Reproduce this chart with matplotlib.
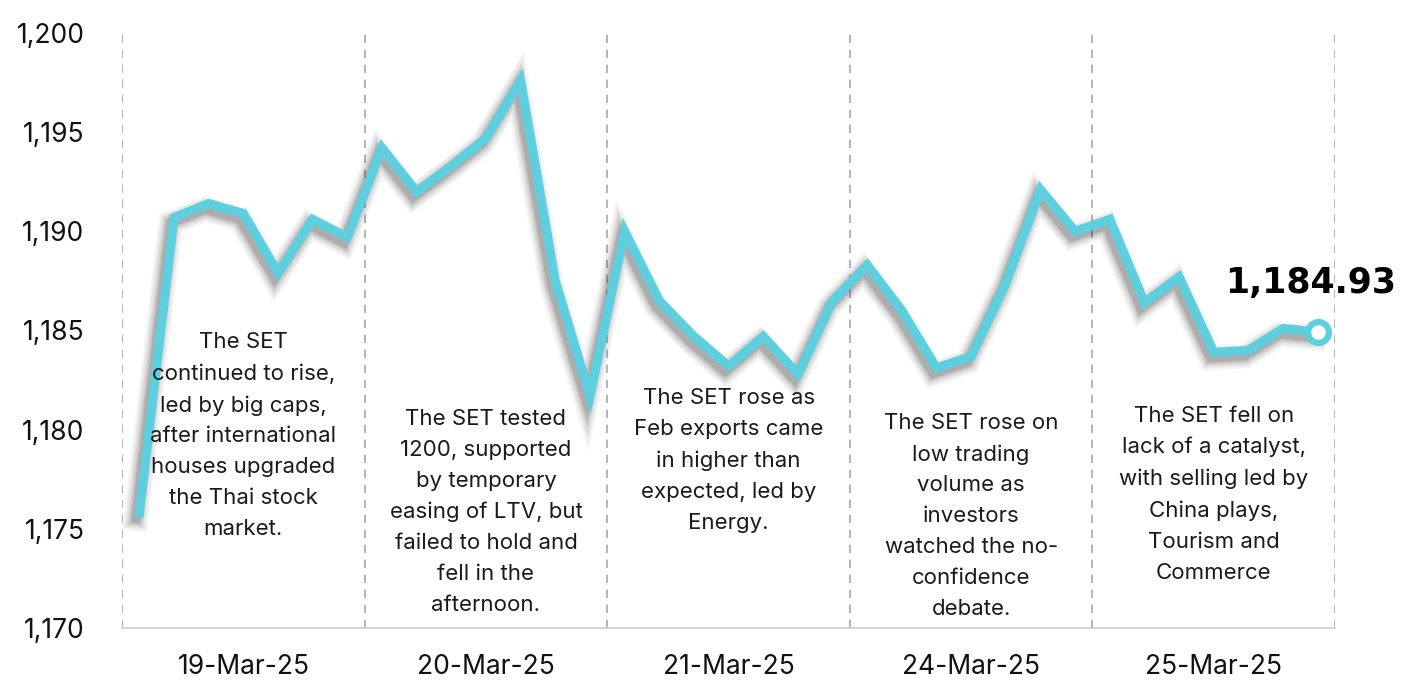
import matplotlib
matplotlib.use("Agg")
import matplotlib.pyplot as plt
import matplotlib.patheffects as pe
import numpy as np

# SET index, 7 readings per trading day
days = ["19-Mar-25", "20-Mar-25", "21-Mar-25", "24-Mar-25", "25-Mar-25"]
set_index = [
    1175.8, 1190.7, 1191.4, 1190.9, 1187.9, 1190.6, 1189.7,
    1194.2, 1192.0, 1193.3, 1194.7, 1197.6, 1187.5, 1181.7,
    1190.0, 1186.5, 1184.7, 1183.2, 1184.7, 1182.8, 1186.5,
    1188.3, 1186.0, 1183.1, 1183.7, 1187.4, 1192.1, 1190.0,
    1190.6, 1186.4, 1187.7, 1183.9, 1184.0, 1185.1, 1184.93,
]
notes = [
    "The SET\ncontinued to rise,\nled by big caps,\nafter international\nhouses upgraded\nthe Thai stock\nmarket.",
    "The SET tested\n1200, supported\nby temporary\neasing of LTV, but\nfailed to hold and\nfell in the\nafternoon.",
    "The SET rose as\nFeb exports came\nin higher than\nexpected, led by\nEnergy.",
    "The SET rose on\nlow trading\nvolume as\ninvestors\nwatched the no-\nconfidence\ndebate.",
    "The SET fell on\nlack of a catalyst,\nwith selling led by\nChina plays,\nTourism and\nCommerce",
]
note_y = [1179.7, 1175.85, 1178.45, 1175.65, 1176.75]
yticks = [1170, 1175, 1180, 1185, 1190, 1195, 1200]

per_day = 7
line_color = "#5DCFDF"
font = "Inter"

fig = plt.figure(figsize=(14.03, 6.80), dpi=100)
ax = fig.add_axes([0.0870, 0.0765, 0.8646, 0.875])

x = np.arange(len(set_index)) + 0.5

# blurred drop shadow (down-left), built from a few wide faint strokes
shadow = [pe.SimpleLineShadow(offset=(-2.5, -4), shadow_color="#000000", alpha=a, rho=1, linewidth=lw)
          for a, lw in [(0.04, 18), (0.05, 15), (0.07, 12), (0.09, 9), (0.11, 6.5)]]
ax.plot(x, set_index, color=line_color, lw=6.5, solid_joinstyle="miter", zorder=3,
        path_effects=shadow + [pe.Normal()])
ax.plot(x[-1], set_index[-1], "o", ms=15, mfc="white", mec=line_color, mew=4.5, zorder=4)
ax.text(x[-1] + 2.25, 1186.9, "1,184.93", ha="right", va="baseline",
        fontsize=25, fontweight="bold", family="DejaVu Sans", color="black", zorder=5)

# day separators
bounds = np.arange(0, len(days) + 1) * per_day
for b in bounds:
    ax.axvline(b, color="#a8a8a8", lw=1.2, ls=(0, (5, 4)), zorder=1)

for i, txt in enumerate(notes):
    ax.text(i * per_day + per_day / 2, note_y[i], txt, ha="center", va="center",
            fontsize=16, family=font, color="#1a1a1a", linespacing=1.68, zorder=5)

ax.set_xlim(0, len(days) * per_day)
ax.set_ylim(1170, 1200)
ax.set_yticks(yticks)
ax.set_yticklabels([f"{v:,}" for v in yticks])
ax.set_xticks(bounds[:-1] + per_day / 2)
ax.set_xticklabels(days)
ax.tick_params(axis="y", length=0, pad=27, labelsize=19, labelcolor="#111111")
ax.tick_params(axis="x", length=0, pad=19, labelsize=19, labelcolor="#111111")
for lab in ax.get_xticklabels() + ax.get_yticklabels():
    lab.set_family(font)

for s in ["top", "right", "left"]:
    ax.spines[s].set_visible(False)
ax.spines["bottom"].set_color("#cccccc")
ax.spines["bottom"].set_linewidth(1.2)

fig.savefig("out.png", dpi=100)
